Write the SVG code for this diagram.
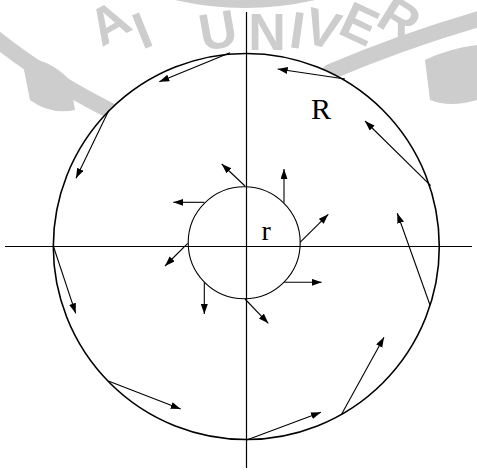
<svg xmlns="http://www.w3.org/2000/svg" width="477" height="472" viewBox="0 0 477 472">
<style>
.wm{fill:#cdcdcd;font-family:"Liberation Sans",Arial,sans-serif;font-weight:bold;font-size:52px;text-anchor:middle}
.wmb{fill:none;stroke:#cdcdcd;stroke-linecap:round}
.ax{stroke:#000;stroke-width:1.2;fill:none}
.arr{stroke:#000;stroke-width:1.1;fill:none;marker-end:url(#ah)}
.lbl{font-family:"Liberation Serif","Times New Roman",serif;fill:#000}
</style>
<defs>
<marker id="ah" markerUnits="userSpaceOnUse" markerWidth="11" markerHeight="8" refX="10" refY="3.5" orient="auto">
<path d="M0,0 L10,3.5 L0,7 z" fill="#000"/>
</marker>
</defs>
<rect width="477" height="472" fill="#fff"/>
<g id="watermark">
<path class="wmb" d="M160,-10 Q245,14 330,-10" stroke-width="12"/>
<path class="wmb" d="M-5,38 Q50,82 125,118" stroke-width="16"/>
<path class="wmb" d="M330,72 Q400,42 482,18" stroke-width="16"/>
<path d="M22,60 Q45,55 70,80 L75,110 Q50,115 30,100 Z" fill="#cdcdcd"/>
<path d="M425,60 Q450,48 477,45 L477,100 Q450,108 430,100 Z" fill="#cdcdcd"/>
<text class="wm" transform="translate(118,38) rotate(-30)">A</text>
<text class="wm" transform="translate(149,47) rotate(-22)">I</text>
<text class="wm" transform="translate(221,48) rotate(-10)">U</text>
<text class="wm" transform="translate(267,50)">N</text>
<text class="wm" transform="translate(295,48) rotate(8)">I</text>
<text class="wm" transform="translate(318,46) rotate(15)">V</text>
<text class="wm" transform="translate(352,40) rotate(25)">E</text>
<text class="wm" transform="translate(390,34) rotate(32)">R</text>
</g>
<g id="outer-circle">
<circle cx="246.3" cy="246.5" r="193" fill="#fff" stroke="#000" stroke-width="1.6"/>
</g>
<g id="axes">
<line class="ax" x1="246.5" y1="12" x2="246.5" y2="468"/>
<line class="ax" x1="5" y1="246.5" x2="472" y2="246.5"/>
</g>
<g id="inner-circle">
<circle cx="244.2" cy="242.8" r="56" fill="none" stroke="#000" stroke-width="1.1"/>
</g>
<g id="connectors">
<line class="arr" x1="230" y1="52.7" x2="159.3" y2="81.7"/>
<line class="arr" x1="345" y1="79" x2="277.7" y2="69"/>
<line class="arr" x1="109" y1="110" x2="76" y2="178.3"/>
<line class="arr" x1="430.7" y1="185.7" x2="365" y2="121"/>
<line class="arr" x1="430" y1="305" x2="397.3" y2="213.3"/>
<line class="arr" x1="341.7" y1="414" x2="384" y2="337.3"/>
<line class="arr" x1="246.7" y1="440" x2="321" y2="412.3"/>
<line class="arr" x1="108.3" y1="381" x2="180.7" y2="409"/>
<line class="arr" x1="53.3" y1="246" x2="75.7" y2="313.3"/>
<line class="arr" x1="245" y1="186" x2="221.7" y2="164"/>
<line class="arr" x1="284" y1="202.7" x2="284" y2="169"/>
<line class="arr" x1="204.3" y1="202.3" x2="173.3" y2="202.3"/>
<line class="arr" x1="300" y1="242.3" x2="328.3" y2="214.3"/>
<line class="arr" x1="187.7" y1="243.3" x2="165" y2="266"/>
<line class="arr" x1="284.3" y1="282.3" x2="321.7" y2="282.3"/>
<line class="arr" x1="204.3" y1="282.3" x2="204.3" y2="314"/>
<line class="arr" x1="245" y1="299" x2="268.3" y2="323.3"/>
</g>
<g id="labels">
<text class="lbl" x="311" y="119.3" font-size="30">R</text>
<text class="lbl" x="261.5" y="240" font-size="28">r</text>
</g>
</svg>
